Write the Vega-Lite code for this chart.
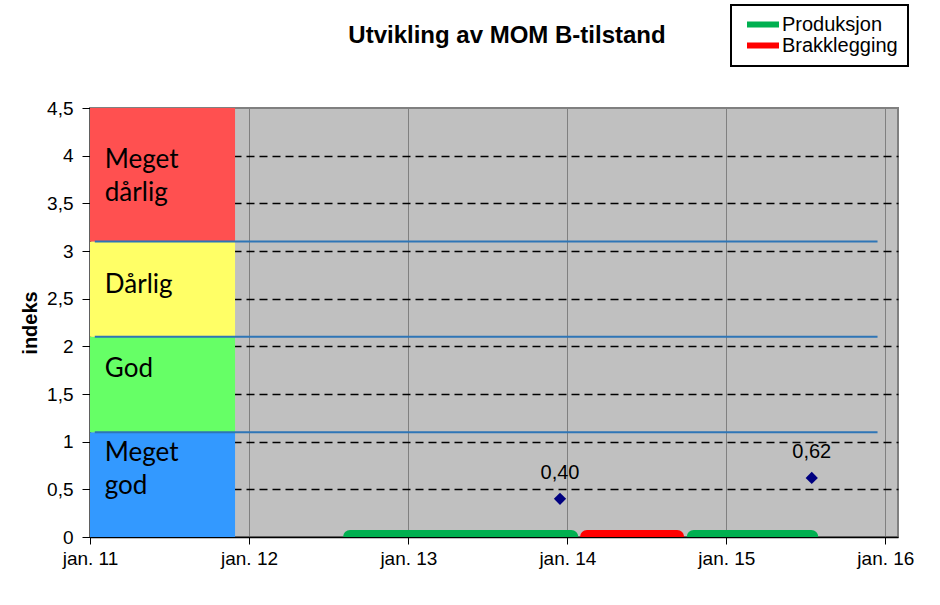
{
  "$schema": "https://vega.github.io/schema/vega-lite/v6.json",
  "width": 808,
  "height": 429,
  "autosize": "none",
  "padding": {"left": 90, "top": 108, "right": 42, "bottom": 68},
  "background": "white",
  "title": {
    "text": "Utvikling av MOM B-tilstand",
    "font": "Liberation Sans",
    "fontSize": 24,
    "fontWeight": "bold",
    "color": "black",
    "anchor": "middle",
    "baseline": "alphabetic",
    "dx": 13,
    "offset": -63
  },
  "config": {
    "view": {"stroke": "#808080", "strokeWidth": 2, "fill": "#C0C0C0"},
    "font": "Liberation Sans",
    "locale": {
      "number": {"decimal": ",", "thousands": " ", "grouping": [3], "currency": ["", " kr"]}
    }
  },
  "datasets": {
    "bands": [
      {"kategori": "Meget god", "fra": 0, "til": 1.1, "start": "2011-01-01", "slutt": "2011-11-30"},
      {"kategori": "God", "fra": 1.1, "til": 2.1, "start": "2011-01-01", "slutt": "2011-11-30"},
      {"kategori": "Dårlig", "fra": 2.1, "til": 3.1, "start": "2011-01-01", "slutt": "2011-11-30"},
      {"kategori": "Meget dårlig", "fra": 3.1, "til": 4.5, "start": "2011-01-01", "slutt": "2011-11-30"}
    ],
    "grenser": [
      {"verdi": 1.1, "start": "2011-01-12", "slutt": "2015-12-14"},
      {"verdi": 2.1, "start": "2011-01-12", "slutt": "2015-12-14"},
      {"verdi": 3.1, "start": "2011-01-12", "slutt": "2015-12-14"}
    ],
    "etiketter": [
      {"tekst": "Meget\ndårlig", "dato": "2011-02-04", "indeks": 3.95},
      {"tekst": "Dårlig", "dato": "2011-02-04", "indeks": 2.64},
      {"tekst": "God", "dato": "2011-02-04", "indeks": 1.76},
      {"tekst": "Meget\ngod", "dato": "2011-02-04", "indeks": 0.88}
    ],
    "faser": [
      {"fase": "Produksjon", "start": "2012-08-20", "slutt": "2014-01-10"},
      {"fase": "Brakklegging", "start": "2014-02-15", "slutt": "2014-09-10"},
      {"fase": "Produksjon", "start": "2014-10-18", "slutt": "2015-07-15"}
    ],
    "malinger": [
      {"dato": "2013-12-15", "indeks": 0.40},
      {"dato": "2015-07-16", "indeks": 0.62}
    ]
  },
  "layer": [
    {
      "data": {"name": "bands"},
      "mark": {"type": "rect"},
      "encoding": {
        "x": {
          "field": "start",
          "type": "temporal",
          "title": null,
          "scale": {"domain": ["2011-01-01", "2016-01-30"]},
          "axis": {
            "values": ["2011-01-01", "2012-01-01", "2013-01-01", "2014-01-01", "2015-01-01", "2016-01-01"],
            "labelExpr": "'jan. ' + timeFormat(datum.value, '%y')",
            "grid": true,
            "gridColor": "#808080",
            "gridWidth": 1,
            "domainColor": "black",
            "domainWidth": 1.5,
            "tickColor": "black",
            "tickSize": 7,
            "labelFont": "Liberation Sans",
            "labelFontSize": 19,
            "labelColor": "black",
            "labelPadding": 5,
            "labelFlush": false,
            "labelOverlap": false
          }
        },
        "x2": {"field": "slutt"},
        "y": {
          "field": "fra",
          "type": "quantitative",
          "title": "indeks",
          "scale": {"domain": [0, 4.5], "nice": false, "zero": false},
          "axis": {
            "values": [0, 0.5, 1, 1.5, 2, 2.5, 3, 3.5, 4, 4.5],
            "format": "~g",
            "grid": true,
            "gridColor": "black",
            "gridDash": [8, 5],
            "gridWidth": 1.5,
            "gridOpacity": {"condition": {"test": "datum.value === 0 || datum.value === 4.5", "value": 0}, "value": 1},
            "domainColor": "black",
            "domainWidth": 1.5,
            "tickColor": "black",
            "tickSize": 8,
            "labelFont": "Liberation Sans",
            "labelFontSize": 19,
            "labelColor": "black",
            "labelPadding": 9,
            "titleFont": "Liberation Sans",
            "titleFontSize": 20,
            "titleFontWeight": "bold",
            "titleColor": "black",
            "titlePadding": 6
          }
        },
        "y2": {"field": "til"},
        "color": {
          "field": "kategori",
          "type": "nominal",
          "scale": {"domain": ["Meget god", "God", "Dårlig", "Meget dårlig"], "range": ["#3399FF", "#66FF66", "#FFFF66", "#FF5050"]},
          "legend": null
        }
      }
    },
    {
      "data": {"name": "grenser"},
      "mark": {"type": "rule", "color": "#2E75B6", "strokeWidth": 2},
      "encoding": {
        "x": {"field": "start", "type": "temporal", "title": null},
        "x2": {"field": "slutt"},
        "y": {"field": "verdi", "type": "quantitative", "title": "indeks"}
      }
    },
    {
      "data": {"name": "etiketter"},
      "mark": {"type": "text", "align": "left", "baseline": "middle", "font": "Lato", "fontSize": 26, "lineBreak": "\n", "lineHeight": 33, "color": "black"},
      "encoding": {
        "x": {"field": "dato", "type": "temporal", "title": null},
        "y": {"field": "indeks", "type": "quantitative", "title": "indeks"},
        "text": {"field": "tekst"}
      }
    },
    {
      "data": {"name": "faser"},
      "mark": {"type": "rule", "strokeWidth": 14, "strokeCap": "round", "clip": true},
      "encoding": {
        "x": {"field": "start", "type": "temporal", "title": null},
        "x2": {"field": "slutt"},
        "y": {"datum": 0, "type": "quantitative", "title": "indeks"},
        "color": {
          "field": "fase",
          "type": "nominal",
          "scale": {"domain": ["Produksjon", "Brakklegging"], "range": ["#00B050", "#FF0000"]},
          "legend": {
            "title": null,
            "orient": "none",
            "legendX": 641,
            "legendY": -103,
            "symbolType": "stroke",
            "symbolStrokeWidth": 6,
            "symbolSize": 1024,
            "symbolOffset": 3,
            "clipHeight": 19,
            "labelFont": "Liberation Sans",
            "labelFontSize": 20,
            "labelColor": "black",
            "labelOffset": 0,
            "rowPadding": 0,
            "padding": 10,
            "strokeColor": "black",
            "fillColor": "white",
            "encode": {
              "legend": {"update": {"strokeWidth": {"value": 2}}},
              "symbols": {"update": {"stroke": {"signal": "datum.value === 'Produksjon' ? '#3CC83C' : '#FF0000'"}}}
            }
          }
        }
      }
    },
    {
      "data": {"name": "malinger"},
      "mark": {"type": "point", "shape": "diamond", "filled": true, "size": 150, "color": "#000080", "opacity": 1},
      "encoding": {
        "x": {"field": "dato", "type": "temporal", "title": null},
        "y": {"field": "indeks", "type": "quantitative", "title": "indeks"}
      }
    },
    {
      "data": {"name": "malinger"},
      "mark": {"type": "text", "baseline": "middle", "align": "center", "dy": -26, "font": "Liberation Sans", "fontSize": 20, "color": "black"},
      "encoding": {
        "x": {"field": "dato", "type": "temporal", "title": null},
        "y": {"field": "indeks", "type": "quantitative", "title": "indeks"},
        "text": {"field": "indeks", "type": "quantitative", "format": ".2f"}
      }
    }
  ],
  "resolve": {"scale": {"color": "independent"}}
}
